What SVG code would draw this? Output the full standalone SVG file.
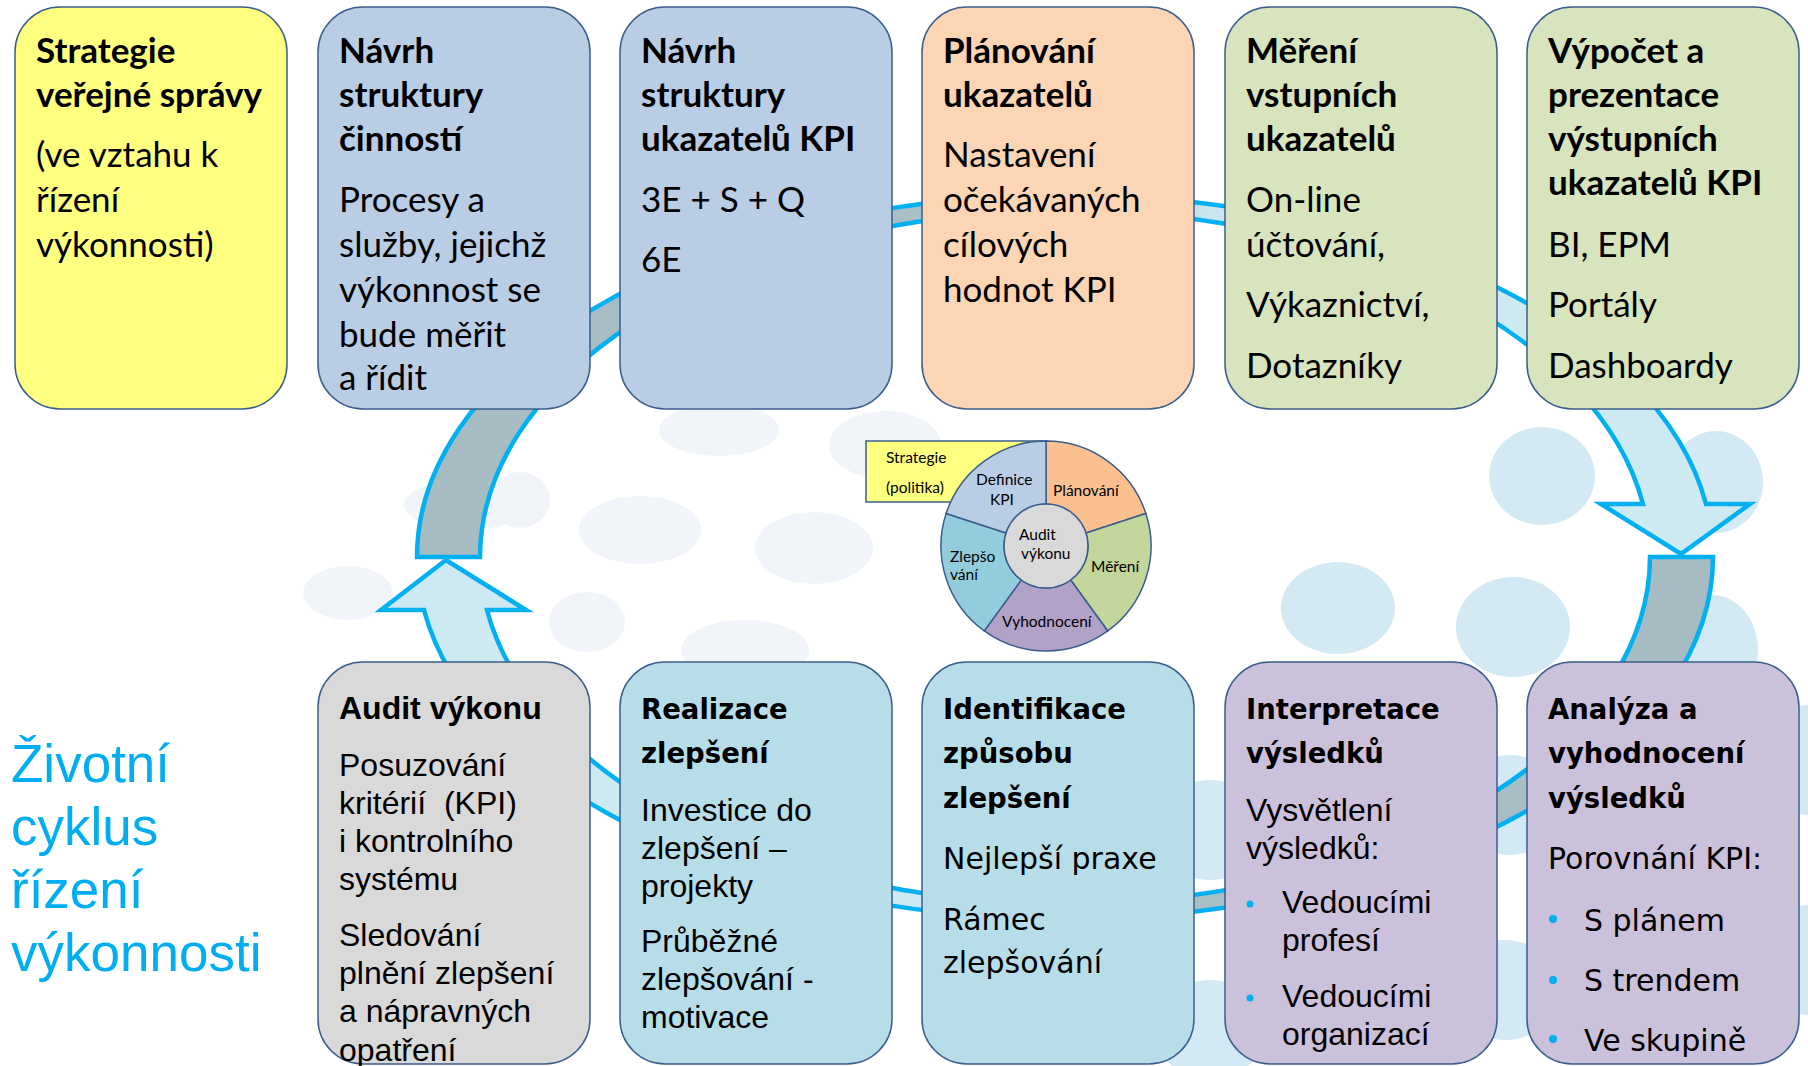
<svg xmlns="http://www.w3.org/2000/svg" width="1808" height="1066" viewBox="0 0 1808 1066">
<defs>
<style>
.box{stroke:#3B5E8C;stroke-width:1.5}
.t{font-family:Lato,'Open Sans',sans-serif;font-size:35px;fill:#000}
.b{font-weight:bold}
.a{font-family:'Liberation Sans',Arial,sans-serif;font-size:32px;fill:#000}
.ab{font-family:'Liberation Sans',Arial,sans-serif;font-size:32px;font-weight:bold;fill:#000}
.d{font-family:'DejaVu Sans',Verdana,sans-serif;font-size:30px;fill:#000}
.db{font-family:'DejaVu Sans',Verdana,sans-serif;font-size:27.5px;font-weight:bold;fill:#000}
.p{font-family:Lato,'Open Sans',sans-serif;font-size:15.5px;fill:#000}
.seg{stroke:#3B5E8C;stroke-width:1.5}
.band{stroke:#00B0F0;stroke-width:4.5;stroke-linejoin:miter}
.bg1{fill:#D3EAF4}
.bg2{fill:#F1F5F9}
.dot{fill:#00B0F0}
.big{font-family:'Liberation Sans',Arial,sans-serif;font-size:53px;fill:#00AEEF}
</style>
<linearGradient id="gA" gradientUnits="userSpaceOnUse" x1="417" y1="0" x2="1750" y2="0">
<stop offset="0" stop-color="#A6BCC2"/><stop offset="0.42" stop-color="#A9C0C6"/><stop offset="0.62" stop-color="#CDE9F2"/><stop offset="1" stop-color="#CDE9F2"/>
</linearGradient>
<linearGradient id="gB" gradientUnits="userSpaceOnUse" x1="1714" y1="0" x2="381" y2="0">
<stop offset="0" stop-color="#A6BCC2"/><stop offset="0.4" stop-color="#A9C0C6"/><stop offset="0.58" stop-color="#CDE9F2"/><stop offset="1" stop-color="#CDE9F2"/>
</linearGradient>
</defs>
<rect width="1808" height="1066" fill="#FFFFFF"/>
<g id="background">
<ellipse class="bg2" cx="719" cy="430" rx="60" ry="26"/>
<ellipse class="bg2" cx="885" cy="445" rx="56" ry="34"/>
<ellipse class="bg2" cx="640" cy="530" rx="61" ry="34"/>
<ellipse class="bg2" cx="814" cy="548" rx="59" ry="36"/>
<ellipse class="bg2" cx="587" cy="622" rx="38" ry="30"/>
<ellipse class="bg2" cx="745" cy="650" rx="64" ry="30"/>
<ellipse class="bg2" cx="520" cy="500" rx="30" ry="28"/>
<ellipse class="bg2" cx="466" cy="505" rx="62" ry="25"/>
<ellipse class="bg2" cx="348" cy="593" rx="45" ry="27"/>
<ellipse class="bg1" cx="1542" cy="476" rx="53" ry="49"/>
<ellipse class="bg1" cx="1716" cy="482" rx="47" ry="51"/>
<ellipse class="bg1" cx="1338" cy="608" rx="57" ry="46"/>
<ellipse class="bg1" cx="1513" cy="627" rx="57" ry="50"/>
<ellipse class="bg1" cx="1712" cy="650" rx="46" ry="55"/>
<ellipse class="bg1" cx="1510" cy="805" rx="55" ry="50"/>
<ellipse class="bg1" cx="1210" cy="830" rx="55" ry="50"/>
<ellipse class="bg1" cx="1808" cy="760" rx="45" ry="55"/>
<ellipse class="bg1" cx="1808" cy="960" rx="45" ry="55"/>
<ellipse class="bg1" cx="1505" cy="990" rx="55" ry="50"/>
<ellipse class="bg1" cx="1210" cy="1030" rx="55" ry="50"/>
</g>
<g id="connectors">
<path class="band" fill="url(#gA)" d="M 417 557 A 648 362 0 0 1 1706 504 L 1750 504 L 1681 554 L 1601 504 L 1643 504 A 585 347 0 0 0 480 557 Z"/>
<path class="band" fill="url(#gB)" d="M 1713 557 A 648 362 0 0 1 424 610 L 381 610 L 446 560 L 526 610 L 487 610 A 585 347 0 0 0 1650 557 Z"/>
</g>
<g id="n1">
<rect class="box" x="15" y="7" width="272" height="402" rx="45" fill="#FFFF80"/>
<text class="t b" x="36" y="63">Strategie</text>
<text class="t b" x="36" y="107">veřejné správy</text>
<text class="t" x="36" y="167">(ve vztahu k</text>
<text class="t" x="36" y="212">řízení</text>
<text class="t" x="36" y="257">výkonnosti)</text>
</g>
<g id="n2">
<rect class="box" x="318" y="7" width="272" height="402" rx="45" fill="#B9CDE5"/>
<text class="t b" x="339" y="63">Návrh</text>
<text class="t b" x="339" y="107">struktury</text>
<text class="t b" x="339" y="151">činností</text>
<text class="t" x="339" y="212">Procesy a</text>
<text class="t" x="339" y="257">služby, jejichž</text>
<text class="t" x="339" y="302">výkonnost se</text>
<text class="t" x="339" y="347">bude měřit</text>
<text class="t" x="339" y="390">a řídit</text>
</g>
<g id="n3">
<rect class="box" x="620" y="7" width="272" height="402" rx="45" fill="#B9CDE5"/>
<text class="t b" x="641" y="63">Návrh</text>
<text class="t b" x="641" y="107">struktury</text>
<text class="t b" x="641" y="151">ukazatelů KPI</text>
<text class="t" x="641" y="212">3E + S + Q</text>
<text class="t" x="641" y="272">6E</text>
</g>
<g id="n4">
<rect class="box" x="922" y="7" width="272" height="402" rx="45" fill="#FCD5B5"/>
<text class="t b" x="943" y="63">Plánování</text>
<text class="t b" x="943" y="107">ukazatelů</text>
<text class="t" x="943" y="167">Nastavení</text>
<text class="t" x="943" y="212">očekávaných</text>
<text class="t" x="943" y="257">cílových</text>
<text class="t" x="943" y="302">hodnot KPI</text>
</g>
<g id="n5">
<rect class="box" x="1225" y="7" width="272" height="402" rx="45" fill="#D7E4BD"/>
<text class="t b" x="1246" y="63">Měření</text>
<text class="t b" x="1246" y="107">vstupních</text>
<text class="t b" x="1246" y="151">ukazatelů</text>
<text class="t" x="1246" y="212">On-line</text>
<text class="t" x="1246" y="257">účtování,</text>
<text class="t" x="1246" y="317">Výkaznictví,</text>
<text class="t" x="1246" y="378">Dotazníky</text>
</g>
<g id="n6">
<rect class="box" x="1527" y="7" width="272" height="402" rx="45" fill="#D7E4BD"/>
<text class="t b" x="1548" y="63">Výpočet a</text>
<text class="t b" x="1548" y="107">prezentace</text>
<text class="t b" x="1548" y="151">výstupních</text>
<text class="t b" x="1548" y="195">ukazatelů KPI</text>
<text class="t" x="1548" y="257">BI, EPM</text>
<text class="t" x="1548" y="317">Portály</text>
<text class="t" x="1548" y="378">Dashboardy</text>
</g>
<g id="n7">
<rect class="box" x="318" y="662" width="272" height="402" rx="45" fill="#D9D9D9"/>
<text class="ab" x="339" y="719">Audit výkonu</text>
<text class="a" x="339" y="776">Posuzování</text>
<text class="a" x="339" y="814" xml:space="preserve">kritérií  (KPI)</text>
<text class="a" x="339" y="852">i kontrolního</text>
<text class="a" x="339" y="890">systému</text>
<text class="a" x="339" y="946">Sledování</text>
<text class="a" x="339" y="984">plnění zlepšení</text>
<text class="a" x="339" y="1022">a nápravných</text>
<text class="a" x="339" y="1061">opatření</text>
</g>
<g id="n8">
<rect class="box" x="620" y="662" width="272" height="402" rx="45" fill="#B7DEE8"/>
<text class="db" x="641" y="719">Realizace</text>
<text class="db" x="641" y="763">zlepšení</text>
<text class="a" x="641" y="821">Investice do</text>
<text class="a" x="641" y="859">zlepšení –</text>
<text class="a" x="641" y="897">projekty</text>
<text class="a" x="641" y="952">Průběžné</text>
<text class="a" x="641" y="990">zlepšování -</text>
<text class="a" x="641" y="1028">motivace</text>
</g>
<g id="n9">
<rect class="box" x="922" y="662" width="272" height="402" rx="45" fill="#B7DEE8"/>
<text class="db" x="943" y="719">Identifikace</text>
<text class="db" x="943" y="763">způsobu</text>
<text class="db" x="943" y="808">zlepšení</text>
<text class="d" x="943" y="869">Nejlepší praxe</text>
<text class="d" x="943" y="930">Rámec</text>
<text class="d" x="943" y="973">zlepšování</text>
</g>
<g id="n10">
<rect class="box" x="1225" y="662" width="272" height="402" rx="45" fill="#CCC1DA"/>
<text class="db" x="1246" y="719">Interpretace</text>
<text class="db" x="1246" y="763">výsledků</text>
<text class="a" x="1246" y="821">Vysvětlení</text>
<text class="a" x="1246" y="859">výsledků:</text>
<circle class="dot" cx="1250" cy="904" r="3.5"/>
<text class="a" x="1282" y="913">Vedoucími</text>
<text class="a" x="1282" y="951">profesí</text>
<circle class="dot" cx="1250" cy="998" r="3.5"/>
<text class="a" x="1282" y="1007">Vedoucími</text>
<text class="a" x="1282" y="1045">organizací</text>
</g>
<g id="n11">
<rect class="box" x="1527" y="662" width="272" height="402" rx="45" fill="#CCC1DA"/>
<text class="db" x="1548" y="719">Analýza a</text>
<text class="db" x="1548" y="763">vyhodnocení</text>
<text class="db" x="1548" y="808">výsledků</text>
<text class="d" x="1548" y="869">Porovnání KPI:</text>
<circle class="dot" cx="1553" cy="919" r="4"/>
<text class="d" x="1584" y="931">S plánem</text>
<circle class="dot" cx="1553" cy="980" r="4"/>
<text class="d" x="1584" y="991">S trendem</text>
<circle class="dot" cx="1553" cy="1039" r="4"/>
<text class="d" x="1584" y="1051">Ve skupině</text>
</g>
<g id="pie">
<rect class="seg" x="866" y="441" width="182" height="61" fill="#FFFF80"/>
<path class="seg" fill="#FAC090" d="M 1046 441 A 105 105 0 0 1 1145.87 513.55 L 1085.95 533.02 A 42 42 0 0 0 1046 504 Z"/>
<path class="seg" fill="#C3D69B" d="M 1145.87 513.55 A 105 105 0 0 1 1107.72 630.95 L 1070.69 579.98 A 42 42 0 0 0 1085.95 533.02 Z"/>
<path class="seg" fill="#B3A2C7" d="M 1107.72 630.95 A 105 105 0 0 1 984.28 630.95 L 1021.31 579.98 A 42 42 0 0 0 1070.69 579.98 Z"/>
<path class="seg" fill="#93CDDD" d="M 984.28 630.95 A 105 105 0 0 1 946.13 513.55 L 1006.05 533.02 A 42 42 0 0 0 1021.31 579.98 Z"/>
<path class="seg" fill="#B9CDE5" d="M 946.13 513.55 A 105 105 0 0 1 1046 441 L 1046 504 A 42 42 0 0 0 1006.05 533.02 Z"/>
<circle class="seg" cx="1046" cy="546" r="42" fill="#D9D9D9"/>
<text class="p" x="886" y="463">Strategie</text>
<text class="p" x="886" y="493">(politika)</text>
<text class="p" x="976" y="485">Definice</text>
<text class="p" x="990" y="505">KPI</text>
<text class="p" x="1053" y="496">Plánování</text>
<text class="p" x="1019" y="540">Audit</text>
<text class="p" x="1021" y="559">výkonu</text>
<text class="p" x="950" y="562">Zlepšo</text>
<text class="p" x="950" y="580">vání</text>
<text class="p" x="1091" y="572">Měření</text>
<text class="p" x="1002" y="627">Vyhodnocení</text>
</g>
<g id="title">
<text class="big" x="11" y="782">Životní</text>
<text class="big" x="11" y="845">cyklus</text>
<text class="big" x="11" y="908">řízení</text>
<text class="big" x="11" y="971">výkonnosti</text>
</g>
</svg>
